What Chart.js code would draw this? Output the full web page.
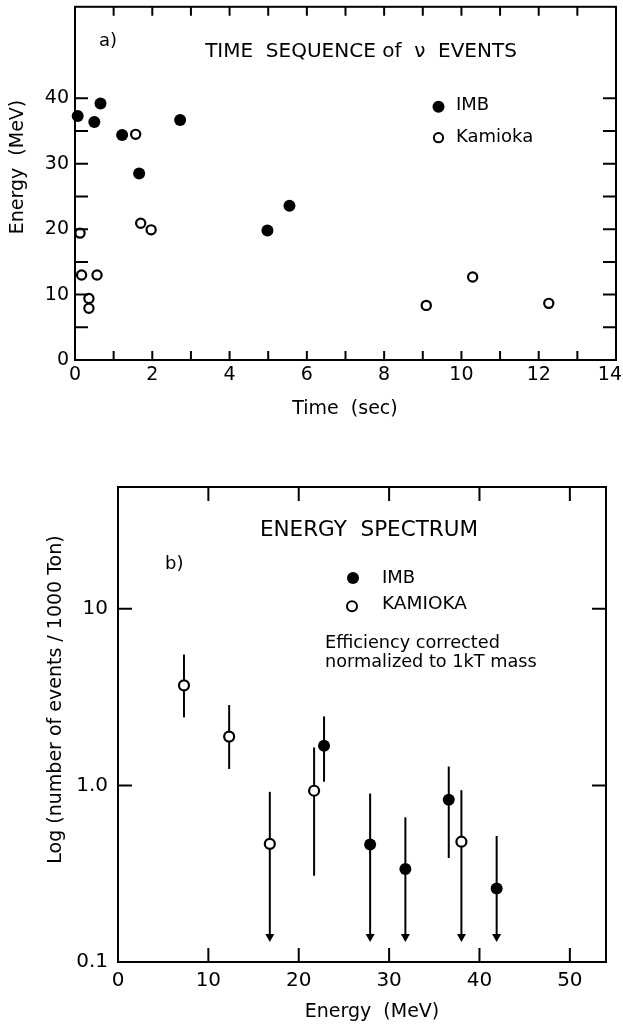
<!DOCTYPE html>
<html><head><meta charset="utf-8">
<script src="https://cdn.jsdelivr.net/npm/chart.js@4/dist/chart.umd.min.js"></script>
<style>
html,body{margin:0;padding:0;background:#fff;width:623px;height:1026px;overflow:hidden}
canvas{position:absolute;left:0}
#c1{top:0}
#c2{top:440px}
</style></head><body>
<canvas id="c1" width="623" height="440"></canvas>
<canvas id="c2" width="623" height="586"></canvas>
<script>
// ---------- (a) time sequence ----------
const imbTime   = [0.07, 0.50, 0.66, 1.22, 1.66, 2.72, 4.98, 5.55];
const imbEnergy = [37.3, 36.4, 39.2, 34.4, 28.5, 36.7, 19.8, 23.6];
const kamTime   = [0.13, 0.17, 0.57, 0.36, 0.36, 1.57, 1.70, 1.97, 9.09, 10.29, 12.26];
const kamEnergy = [19.4, 13.0, 13.0, 9.4, 7.9, 34.5, 20.9, 19.9, 8.35, 12.7, 8.66];
const timeTicks = [0,1,2,3,4,5,6,7,8,9,10,11,12,13,14];
const timeLabelTicks = [0,2,4,6,8,10,12,14];
const energyTicks = [0,5,10,15,20,25,30,35,40];
const energyLabelTicks = [0,10,20,30,40];

// ---------- (b) energy spectrum ----------
const kamSpecE  = [7.3, 12.3, 16.8, 21.7, 38.0];
const kamSpecN  = [3.69, 1.89, 0.467, 0.933, 0.48];
const kamSpecHi = [5.51, 2.85, 0.92, 1.64, 0.94];
const kamSpecLo = [2.43, 1.24, null, 0.308, null];   // null = upper limit (arrow)
const imbSpecE  = [22.8, 27.9, 31.8, 36.6, 41.9];
const imbSpecN  = [1.68, 0.463, 0.336, 0.83, 0.261];
const imbSpecHi = [2.46, 0.90, 0.66, 1.28, 0.517];
const imbSpecLo = [1.05, null, null, 0.388, null];
const arrowTip = 0.13;
const specEnergyTicks = [0,10,20,30,40,50];
const countTicks = [0.1, 1, 10];
const countLabels = ['0.1', '1.0', '10'];

const FONT = 'DejaVu Sans';
Chart.defaults.font.family = FONT;
Chart.defaults.color = '#000';

const framePlugin = {
  id: 'frameTicks',
  beforeDatasetsDraw(chart, args, opts) {
    const ctx = chart.ctx;
    if (opts.errorBars) {
      const xs = chart.scales.x, ys = chart.scales.y;
      ctx.save();
      ctx.strokeStyle = '#000'; ctx.fillStyle = '#000'; ctx.lineWidth = 2;
      opts.errorBars.forEach(set => {
        set.x.forEach((xv, i) => {
          const px = xs.getPixelForValue(xv);
          const top = ys.getPixelForValue(set.hi[i]);
          const isLimit = set.lo[i] === null;
          const bot = ys.getPixelForValue(isLimit ? arrowTip : set.lo[i]);
          ctx.beginPath();
          ctx.moveTo(px, top);
          ctx.lineTo(px, isLimit ? bot - 6 : bot);
          ctx.stroke();
          if (isLimit) {
            ctx.beginPath();
            ctx.moveTo(px, bot);
            ctx.lineTo(px - 4.5, bot - 8);
            ctx.lineTo(px + 4.5, bot - 8);
            ctx.closePath();
            ctx.fill();
          }
        });
      });
      ctx.restore();
    }
  },
  afterDraw(chart, args, opts) {
    const ctx = chart.ctx, a = chart.chartArea;
    const xs = chart.scales.x, ys = chart.scales.y;
    ctx.save();
    ctx.strokeStyle = '#000';
    ctx.lineWidth = 2;
    ctx.beginPath();
    opts.xTicks.forEach(v => {
      const p = xs.getPixelForValue(v);
      ctx.moveTo(p, a.bottom); ctx.lineTo(p, a.bottom - opts.xLen);
      ctx.moveTo(p, a.top); ctx.lineTo(p, a.top + opts.xLen);
    });
    opts.yTicks.forEach(v => {
      const p = ys.getPixelForValue(v);
      ctx.moveTo(a.left, p); ctx.lineTo(a.left + opts.yLen, p);
      ctx.moveTo(a.right, p); ctx.lineTo(a.right - opts.yLen, p);
    });
    ctx.stroke();
    ctx.strokeRect(a.left, a.top, a.right - a.left, a.bottom - a.top);
    ctx.fillStyle = '#000';
    // x tick labels kept inside the canvas (last one nudged in like the original)
    if (opts.xLabels) {
      ctx.font = opts.xLabels.size + 'px "' + FONT + '"';
      ctx.textAlign = 'center';
      ctx.textBaseline = 'top';
      opts.xLabels.values.forEach(v => {
        const s = String(v);
        const w = ctx.measureText(s).width;
        let p = xs.getPixelForValue(v);
        p = Math.min(p, chart.width - w / 2 - 1);
        ctx.fillText(s, p, a.bottom + opts.xLabels.pad);
      });
    }
    // texts
    (opts.texts || []).forEach(t => {
      ctx.save();
      ctx.font = t.size + 'px "' + FONT + '"';
      ctx.textAlign = t.align || 'left';
      ctx.textBaseline = 'alphabetic';
      ctx.translate(t.x, t.y);
      if (t.rot) ctx.rotate(t.rot);
      ctx.fillText(t.text, 0, 0);
      ctx.restore();
    });
    (opts.marks || []).forEach(m => {
      ctx.beginPath();
      ctx.arc(m.x, m.y, m.r, 0, Math.PI * 2);
      if (m.filled) { ctx.fill(); } else { ctx.fillStyle = '#fff'; ctx.fill(); ctx.fillStyle = '#000'; ctx.stroke(); }
    });
    ctx.restore();
  }
};

function noPad(s) { s.paddingLeft = 0; s.paddingRight = 0; s.paddingTop = 0; s.paddingBottom = 0; }

// ---------- chart (a) ----------
new Chart(document.getElementById('c1'), {
  type: 'scatter',
  data: { datasets: [
    { label: 'IMB', data: imbTime.map((t, i) => ({x: t, y: imbEnergy[i]})),
      pointRadius: 6, pointBackgroundColor: '#000', pointBorderColor: '#000', pointBorderWidth: 0, clip: false },
    { label: 'Kamioka', data: kamTime.map((t, i) => ({x: t, y: kamEnergy[i]})),
      pointRadius: 4.6, pointBackgroundColor: '#fff', pointBorderColor: '#000', pointBorderWidth: 2.2, clip: false }
  ]},
  options: {
    responsive: false, animation: false, devicePixelRatio: 1,
    layout: { padding: { top: 5, right: 7, left: 0, bottom: 0 } },
    plugins: {
      legend: { display: false }, tooltip: { enabled: false },
      frameTicks: {
        xTicks: timeTicks, yTicks: energyTicks, xLen: 9, yLen: 13,
        xLabels: { values: timeLabelTicks, size: 19, pad: 6 },
        texts: [
          { text: 'a)', x: 99, y: 45.5, size: 18 },
          { text: 'TIME  SEQUENCE of  \u03BD  EVENTS', x: 361, y: 57, size: 20, align: 'center' },
          { text: 'IMB', x: 456, y: 110, size: 18 },
          { text: 'Kamioka', x: 456, y: 142, size: 18 },
          { text: 'Energy  (MeV)', x: 23, y: 167, size: 19, align: 'center', rot: -Math.PI / 2 },
          { text: 'Time  (sec)', x: 345, y: 414, size: 19, align: 'center' }
        ],
        marks: [
          { x: 438.5, y: 106.7, r: 6, filled: true },
          { x: 438.5, y: 137.7, r: 4.6, filled: false }
        ]
      }
    },
    scales: {
      x: { type: 'linear', min: 0, max: 14,
        afterFit(s) { s.height = 80; noPad(s); },
        afterBuildTicks(s) { s.ticks = timeTicks.map(v => ({value: v})); },
        ticks: { display: false },
        grid: { display: false, drawTicks: false }, border: { display: false } },
      y: { type: 'linear', min: 0, max: 54,
        afterFit(s) { s.width = 75; noPad(s); },
        afterBuildTicks(s) { s.ticks = energyTicks.map(v => ({value: v})); },
        ticks: { callback: v => energyLabelTicks.includes(v) ? String(v) : '', font: { size: 19 }, padding: 6, autoSkip: false },
        grid: { display: false, drawTicks: false }, border: { display: false } }
    }
  },
  plugins: [framePlugin]
});

// ---------- chart (b) ----------
new Chart(document.getElementById('c2'), {
  type: 'scatter',
  data: { datasets: [
    { label: 'IMB', data: imbSpecE.map((e, i) => ({x: e, y: imbSpecN[i]})),
      pointRadius: 6, pointBackgroundColor: '#000', pointBorderColor: '#000', pointBorderWidth: 0, clip: false },
    { label: 'KAMIOKA', data: kamSpecE.map((e, i) => ({x: e, y: kamSpecN[i]})),
      pointRadius: 5, pointBackgroundColor: '#fff', pointBorderColor: '#000', pointBorderWidth: 2.2, clip: false }
  ]},
  options: {
    responsive: false, animation: false, devicePixelRatio: 1,
    layout: { padding: { top: 47, right: 17, left: 0, bottom: 0 } },
    plugins: {
      legend: { display: false }, tooltip: { enabled: false },
      frameTicks: {
        xTicks: specEnergyTicks, yTicks: countTicks, xLen: 14, yLen: 14,
        errorBars: [
          { x: kamSpecE, hi: kamSpecHi, lo: kamSpecLo },
          { x: imbSpecE, hi: imbSpecHi, lo: imbSpecLo }
        ],
        texts: [
          { text: 'ENERGY  SPECTRUM', x: 369, y: 96.4, size: 21.5, align: 'center' },
          { text: 'b)', x: 165, y: 129, size: 18 },
          { text: 'IMB', x: 382, y: 143, size: 18 },
          { text: 'KAMIOKA', x: 382, y: 168.5, size: 18.5 },
          { text: 'Efficiency corrected', x: 325, y: 207.7, size: 17.7 },
          { text: 'normalized to 1kT mass', x: 325, y: 226.6, size: 17.7 },
          { text: 'Log (number of events / 1000 Ton)', x: 61, y: 259.5, size: 19, align: 'center', rot: -Math.PI / 2 },
          { text: 'Energy  (MeV)', x: 372, y: 577, size: 19, align: 'center' }
        ],
        marks: [
          { x: 353, y: 138, r: 6, filled: true },
          { x: 352, y: 166.3, r: 5, filled: false }
        ]
      }
    },
    scales: {
      x: { type: 'linear', min: 0, max: 54,
        afterFit(s) { s.height = 64; noPad(s); },
        afterBuildTicks(s) { s.ticks = specEnergyTicks.map(v => ({value: v})); },
        ticks: { callback: v => String(v), font: { size: 20 }, padding: 7, maxRotation: 0, autoSkip: false },
        grid: { display: false, drawTicks: false }, border: { display: false } },
      y: { type: 'logarithmic', min: 0.1, max: 49,
        afterFit(s) { s.width = 118; noPad(s); },
        afterBuildTicks(s) { s.ticks = countTicks.map(v => ({value: v})); },
        ticks: { callback: (v) => { const i = countTicks.indexOf(v); return i >= 0 ? countLabels[i] : ''; }, font: { size: 20 }, padding: 10, autoSkip: false },
        grid: { display: false, drawTicks: false }, border: { display: false } }
    }
  },
  plugins: [framePlugin]
});
</script>
</body></html>
